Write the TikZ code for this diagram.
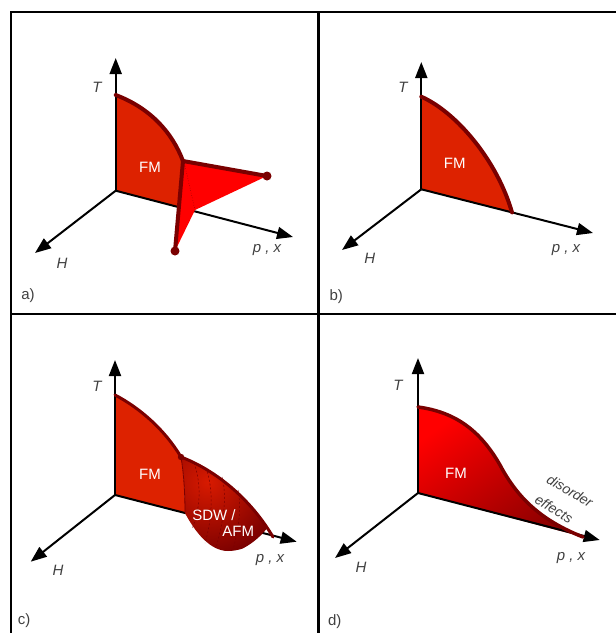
\documentclass[tikz,border=0pt]{standalone}
\usepackage{fontspec}
\setmainfont{Liberation Sans}
\usetikzlibrary{arrows.meta}
\definecolor{fmred}{HTML}{DD2200}
\definecolor{lineRed}{HTML}{7A0000}
\definecolor{wingred}{HTML}{FF0000}
\definecolor{sdwdark}{HTML}{7A0000}
\definecolor{sdwlight}{HTML}{D81A00}
\definecolor{lblgray}{HTML}{404040}
\tikzset{
  axisarrow/.style={line width=2pt, -{Triangle[length=16pt,width=12pt]}},
  frameline/.style={line width=2.2pt, black},
  boundary/.style={line width=4pt, lineRed, line cap=round, line join=round},
  axlabel/.style={font=\fontsize{15}{17}\selectfont\itshape, text=lblgray, inner sep=0pt},
  panellabel/.style={font=\fontsize{15}{17}\selectfont, text=lblgray, inner sep=0pt},
  phase/.style={font=\fontsize{15}{17}\selectfont, text=white, inner sep=0pt},
  dotmark/.style={fill=lineRed, draw=none}
}
\begin{document}
\begin{tikzpicture}[x=1pt,y=-1pt]
\useasboundingbox (0,0) rectangle (616,633);
% frame
\draw[frameline] (11,633) -- (11,12) -- (616,12);
\draw[frameline] (318.5,12) -- (318.5,633);
\draw[frameline] (11,314) -- (616,314);

% ---------------- panel a ----------------
\coordinate (aO) at (115.7,190.7);
\coordinate (aT) at (115.7,58);
\coordinate (aH) at (35,253);
\coordinate (aP) at (293,237);
\coordinate (aTop) at (115.7,95);
\coordinate (aJ) at (183,161);
\coordinate (aR) at (267,176);
\coordinate (aB) at (175,251);
\coordinate (aIn) at (195,210);
\coordinate (aF) at (178.5,206.5);
\fill[fmred] (aTop) .. controls (150,108) and (172,132) .. (aJ) -- (aF) -- (aO) -- cycle;
\draw[axisarrow] (aO) -- (aT);
\draw[axisarrow] (aO) -- (aH);
\draw[axisarrow] (aO) -- (aP);
\fill[wingred] (aJ) -- (aR) -- (aIn) -- (aB) -- cycle;
\draw[lineRed, line width=0.5pt, dotted] (185,166) -- (aIn);
\draw[boundary] (aTop) .. controls (150,108) and (172,132) .. (aJ) -- (aR);
\draw[boundary] (aJ) -- (aB);
\fill[dotmark] (aR) circle (4.5);
\fill[dotmark] (aB) circle (4.5);
\node[phase] (aFM) at (150,167) {FM};
\node[axlabel] (aTl) at (97,87) {T};
\node[axlabel] (aHl) at (62,263) {H};
\node[axlabel] (aPl) at (267,250) {p , x};
\node[panellabel] (alab) at (28,296) {a)};

% ---------------- panel b ----------------
\coordinate (bO) at (421.3,189.3);
\coordinate (bT) at (421.3,62);
\coordinate (bH) at (342,250);
\coordinate (bP) at (593,233);
\coordinate (bTop) at (421.3,96.7);
\coordinate (bE) at (512,212.4);
\fill[fmred] (bTop) .. controls (456,112) and (497,160) .. (bE) -- (bO) -- cycle;
\draw[axisarrow] (bO) -- (bT);
\draw[axisarrow] (bO) -- (bH);
\draw[axisarrow] (bO) -- (bP);
\draw[boundary] (bTop) .. controls (456,112) and (497,160) .. (bE);
\node[phase] (bFM) at (454.7,163) {FM};
\node[axlabel] (bTl) at (403,87) {T};
\node[axlabel] (bHl) at (369.7,258) {H};
\node[axlabel] (bPl) at (566,250) {p , x};
\node[panellabel] (blab) at (336.3,297) {b)};

% ---------------- panel c ----------------
\coordinate (cO) at (115,495);
\coordinate (cT) at (115,360);
\coordinate (cH) at (30.7,561.7);
\coordinate (cP) at (296.7,541.7);
\coordinate (cTop) at (115,395);
\coordinate (cJ) at (181,457);
\coordinate (cF) at (185,513);
\coordinate (cE) at (273,537);
\fill[fmred] (cTop) .. controls (140,408) and (165,430) .. (cJ) .. controls (184,475) and (185,495) .. (cF) -- (cO) -- cycle;
\draw[axisarrow] (cO) -- (cT);
\draw[axisarrow] (cO) -- (cH);
\draw[axisarrow] (cO) -- (cP);
\begin{scope}
  \clip (cJ) .. controls (215,470) and (250,498) .. (cE)
        .. controls (260,540) and (245,551) .. (228,551)
        .. controls (210,551) and (195,532) .. (cF)
        .. controls (185,495) and (184,475) .. (cJ) -- cycle;
  \shade[inner color=sdwlight, outer color=sdwdark] (208,482) circle (75);
\end{scope}
\draw[lineRed, line width=0.8pt] (cJ) .. controls (184,475) and (185,495) .. (cF);
\draw[lineRed, line width=0.5pt, dash pattern=on 2pt off 2pt] (194,463) .. controls (202,485) and (200,510) .. (192,529);
\draw[lineRed, line width=0.5pt, dash pattern=on 2pt off 2pt] (206,468) .. controls (214,490) and (212,520) .. (205,543);
\draw[lineRed, line width=0.5pt, dash pattern=on 2pt off 2pt] (222,477) .. controls (228,500) and (222,525) .. (216,548);
\draw[lineRed, line width=0.5pt, dash pattern=on 2pt off 2pt] (238,490) .. controls (242,510) and (238,530) .. (233,550);
\draw[boundary, line width=3pt] (cTop) .. controls (140,408) and (165,430) .. (cJ) .. controls (215,470) and (250,498) .. (cE);
\fill[dotmark] (cJ) circle (3.2);
\node[phase] (cFM) at (150,474) {FM};
\node[phase] (cSDW) at (214,515) {SDW /};
\node[phase] (cAFM) at (238.3,531.7) {AFM};
\node[axlabel] (cTl) at (97,386) {T};
\node[axlabel] (cHl) at (58,570) {H};
\node[axlabel] (cPl) at (270,560) {p , x};
\node[panellabel] (clab) at (24,621) {c)};

% ---------------- panel d ----------------
\coordinate (dO) at (418,493);
\coordinate (dT) at (418,358);
\coordinate (dH) at (335,558);
\coordinate (dP) at (599.7,540);
\coordinate (dTop) at (418,407);
\coordinate (dE) at (583,537);
\shade[top color=wingred, bottom color=red!55!black, shading angle=35]
  (dTop) .. controls (455,412) and (480,430) .. (500,465)
         .. controls (517,497) and (540,520) .. (dE) -- (dO) -- cycle;
\draw[axisarrow] (dO) -- (dT);
\draw[axisarrow] (dO) -- (dH);
\draw[axisarrow] (dO) -- (dP);
\draw[boundary, line width=3.5pt] (dTop) .. controls (455,412) and (480,430) .. (500,465)
         .. controls (517,497) and (540,520) .. (dE);
\node[phase] (dFM) at (456,473) {FM};
\node[axlabel, rotate=-31, font=\fontsize{14}{16}\selectfont\itshape] (dDis) at (570,491) {disorder};
\node[axlabel, rotate=-31, font=\fontsize{14}{16}\selectfont\itshape] (dEff) at (554,509) {effects};
\node[axlabel] (dTl) at (398,385) {T};
\node[axlabel] (dHl) at (361,567) {H};
\node[axlabel] (dPl) at (571,558) {p , x};
\node[panellabel] (dlab) at (334.7,622) {d)};
\end{tikzpicture}
\end{document}
